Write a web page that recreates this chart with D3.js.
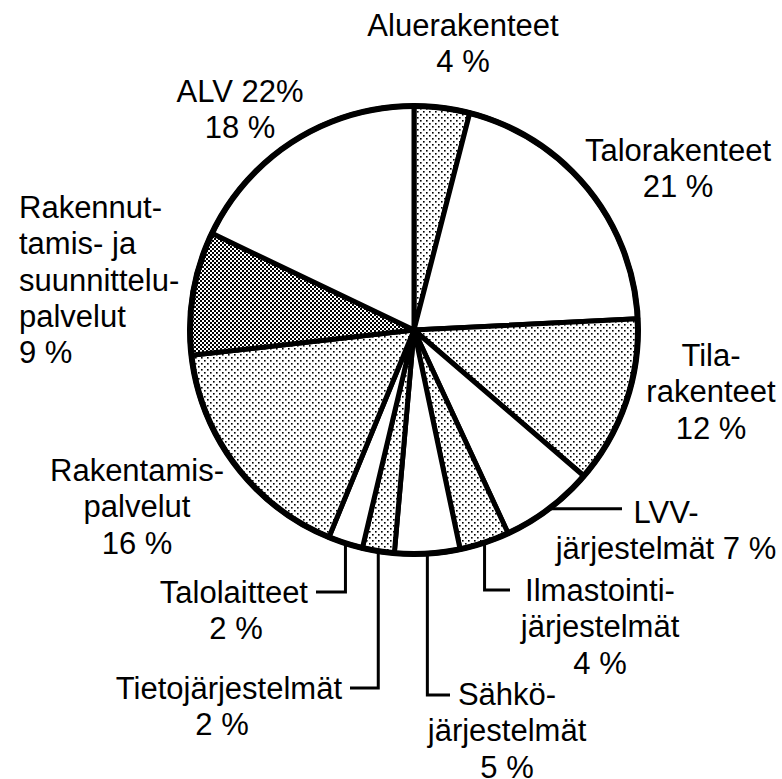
<!DOCTYPE html>
<html>
<head>
<meta charset="utf-8">
<script src="https://cdn.jsdelivr.net/npm/d3@7"></script>
<style>
  body { margin: 0; background: #fff; }
  text { font-family: Arial, "Liberation Sans", sans-serif; font-size: 31px; fill: #000; }
</style>
</head>
<body>
<svg width="782" height="779"></svg>
<script>
// slice order clockwise from 12 o'clock
const names = ["Aluerakenteet", "Talorakenteet", "Tilarakenteet", "LVV-järjestelmät",
               "Ilmastointijärjestelmät", "Sähköjärjestelmät", "Tietojärjestelmät",
               "Talolaitteet", "Rakentamispalvelut", "Rakennuttamis- ja suunnittelupalvelut", "ALV 22%"];
// shares
const shares = [4.0, 20.2, 12.1, 6.8, 3.6, 4.7, 2.3, 2.5, 17.0, 8.9, 17.9];
const fills  = ["dots", "white", "dots", "white", "dots", "white", "dots", "white", "dots", "dense", "white"];
// label text lines
const labelLines = [
  ["Aluerakenteet", "4 %"],
  ["Talorakenteet", "21 %"],
  ["Tila-", "rakenteet", "12 %"],
  ["LVV-", "järjestelmät 7 %"],
  ["Ilmastointi-", "järjestelmät", "4 %"],
  ["Sähkö-", "järjestelmät", "5 %"],
  ["Tietojärjestelmät", "2 %"],
  ["Talolaitteet", "2 %"],
  ["Rakentamis-", "palvelut", "16 %"],
  ["Rakennut-", "tamis- ja", "suunnittelu-", "palvelut", "9 %"],
  ["ALV 22%", "18 %"]
];

const svg = d3.select("svg");
const cx = 414, cy = 330, r = 224;

const defs = svg.append("defs");
const dots = defs.append("pattern").attr("id", "dots")
  .attr("patternUnits", "userSpaceOnUse").attr("width", 6).attr("height", 6);
dots.append("rect").attr("width", 6).attr("height", 6).attr("fill", "#fff");
dots.append("rect").attr("x", 0).attr("y", 0).attr("width", 1.6).attr("height", 1.6).attr("fill", "#000");
dots.append("rect").attr("x", 3).attr("y", 3).attr("width", 1.6).attr("height", 1.6).attr("fill", "#000");

const dense = defs.append("pattern").attr("id", "dense")
  .attr("patternUnits", "userSpaceOnUse").attr("width", 4).attr("height", 4);
dense.append("rect").attr("width", 4).attr("height", 4).attr("fill", "#fff");
dense.append("rect").attr("x", 0).attr("y", 0).attr("width", 2).attr("height", 2).attr("fill", "#000");
dense.append("rect").attr("x", 2).attr("y", 2).attr("width", 2).attr("height", 2).attr("fill", "#000");

const pie = d3.pie().sort(null).value(d => d)(shares);
const arc = d3.arc().innerRadius(0).outerRadius(r);

const g = svg.append("g").attr("transform", "translate(" + cx + "," + cy + ")");

g.selectAll("path.slice")
  .data(pie)
  .join("path")
  .attr("class", "slice")
  .attr("d", arc)
  .attr("fill", (d, i) => fills[i] == "white" ? "#fff" : "url(#" + fills[i] + ")")
  .attr("stroke", "#000")
  .attr("stroke-width", 5)
  .attr("stroke-linejoin", "round");

// outer ring a bit heavier
g.append("circle")
  .attr("r", r)
  .attr("fill", "none")
  .attr("stroke", "#000")
  .attr("stroke-width", 6);

// label placement: anchor, x, first baseline (relative to page)
const labelPos = [
  {anchor: "middle", x: 463, y: 36},
  {anchor: "middle", x: 678, y: 161},
  {anchor: "middle", x: 711, y: 366},
  {anchor: "middle", x: 666, y: 523},
  {anchor: "middle", x: 600, y: 601},
  {anchor: "middle", x: 507, y: 705},
  {anchor: "middle", x: 222, y: 699},
  {anchor: "middle", x: 236, y: 603},
  {anchor: "middle", x: 137, y: 481},
  {anchor: "start",  x: 19,  y: 218},
  {anchor: "middle", x: 240, y: 102}
];
const lineH = 36.3;

// leader lines: elbow y and end x for the small slices
const leaders = {
  3: {y: null, x: 622},
  4: {y: 590, x: 510},
  5: {y: 695, x: 450},
  6: {y: 688, x: 350},
  7: {y: 592, x: 316}
};

const pt = function(a, rad) {
  return [cx + rad * Math.sin(a), cy - rad * Math.cos(a)];
};

Object.keys(leaders).forEach(function(k) {
  const d = pie[k];
  const mid = (d.startAngle + d.endAngle) / 2;
  const p = pt(mid, r);
  const L = leaders[k];
  let pts;
  if (L.y == null) pts = [[p[0], p[1]], [L.x, p[1]]];
  else pts = [[p[0], p[1]], [p[0], L.y], [L.x, L.y]];
  svg.append("path")
    .attr("d", d3.line()(pts))
    .attr("fill", "none")
    .attr("stroke", "#000")
    .attr("stroke-width", 3);
});

labelLines.forEach(function(lines, i) {
  const pos = labelPos[i];
  const t = svg.append("text").attr("text-anchor", pos.anchor);
  lines.forEach(function(s, j) {
    let x = pos.x;
    let anchor = pos.anchor;
    // first line of the two left-side labels ends at the leader line
    if ((i == 6 || i == 7) && j == 0) { anchor = "end"; x = leaders[i].x - 8; }
    t.append("tspan")
      .attr("x", x)
      .attr("y", pos.y + j * lineH)
      .attr("text-anchor", anchor)
      .text(s);
  });
});
</script>
</body>
</html>
